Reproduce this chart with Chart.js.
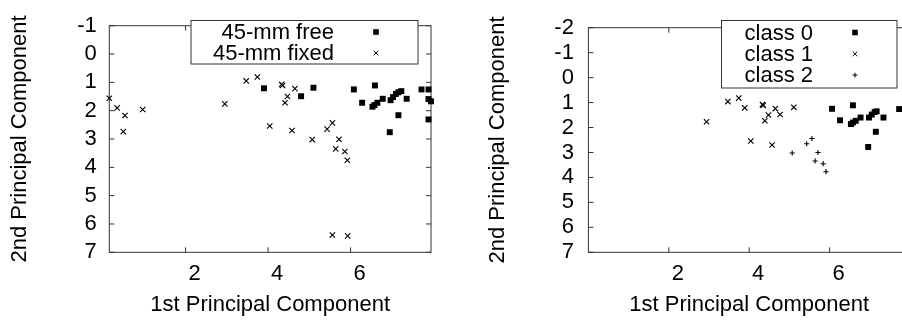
<!DOCTYPE html>
<html>
<head>
<meta charset="utf-8">
<script src="https://cdn.jsdelivr.net/npm/chart.js@4.4.1/dist/chart.umd.min.js"></script>
<style>
html, body { margin: 0; padding: 0; background: #fff; overflow: hidden; width: 902px; height: 322px; }
#left { position: absolute; left: 0; top: 0; }
#right { position: absolute; left: 450px; top: 0; }
</style>
</head>
<body>
<canvas id="left" width="451" height="322"></canvas>
<canvas id="right" width="480" height="322"></canvas>
<script>
// tick labels
const xTicks = [2, 4, 6];
const leftYTicks = [-1, 0, 1, 2, 3, 4, 5, 6, 7];
const rightYTicks = [-2, -1, 0, 1, 2, 3, 4, 5, 6, 7];

// left plot: [1st PC, 2nd PC]
const free45 = [
  [3.90, 1.21], [4.80, 1.49], [5.10, 1.19], [6.08, 1.25], [6.28, 1.72], [6.59, 1.11],
  [6.53, 1.86], [6.58, 1.80], [6.65, 1.72], [6.78, 1.58], [6.97, 1.63], [7.03, 1.52],
  [7.10, 1.41], [7.16, 1.35], [7.23, 1.31], [7.36, 1.58], [7.16, 2.16], [6.95, 2.76],
  [7.72, 1.25], [7.89, 1.25], [7.89, 1.59], [7.95, 1.67], [7.89, 2.31]
];
const fixed45 = [
  [0.15, 1.56], [0.34, 1.90], [0.53, 2.17], [0.49, 2.74], [0.96, 1.96], [2.95, 1.76],
  [3.47, 0.95], [3.74, 0.81], [4.33, 1.07], [4.35, 1.11], [4.65, 1.22], [4.47, 1.50],
  [4.41, 1.72], [4.04, 2.54], [4.58, 2.70], [5.07, 3.02], [5.43, 2.65], [5.56, 2.43],
  [5.72, 3.01], [5.64, 3.35], [5.86, 3.44], [5.92, 3.75], [5.56, 6.39], [5.93, 6.42]
];

// right plot
const class0 = [
  [6.06, 1.25], [6.26, 1.71], [6.58, 1.11], [6.53, 1.86], [6.58, 1.80], [6.65, 1.73],
  [6.77, 1.60], [6.98, 1.60], [7.05, 1.48], [7.12, 1.38], [7.17, 1.35], [7.34, 1.60],
  [7.15, 2.17], [6.96, 2.78], [7.73, 1.26], [7.89, 1.25], [7.89, 1.59], [7.95, 1.67], [7.89, 2.31]
];
const class1 = [
  [2.94, 1.77], [3.47, 0.96], [3.74, 0.82], [3.89, 1.21], [4.33, 1.08], [4.35, 1.11],
  [4.65, 1.24], [4.48, 1.50], [4.39, 1.73], [4.77, 1.48], [5.11, 1.19], [4.04, 2.54], [4.57, 2.70]
];
const class2 = [
  [5.07, 3.02], [5.43, 2.65], [5.56, 2.44], [5.71, 3.00], [5.64, 3.34], [5.84, 3.45], [5.91, 3.77]
];

Chart.defaults.font.family = '"Liberation Sans", Arial, sans-serif';
Chart.defaults.font.size = 22;
Chart.defaults.color = '#000';

const TICK = 5;

const framePlugin = {
  id: 'frame',
  beforeDatasetsDraw(chart) {
    const { ctx, chartArea: a, scales: { x, y } } = chart;
    ctx.save();
    ctx.strokeStyle = '#333';
    ctx.lineWidth = 1;
    ctx.strokeRect(a.left, a.top, a.right - a.left, a.bottom - a.top);
    ctx.beginPath();
    x.ticks.forEach(t => {
      const px = x.getPixelForValue(t.value);
      ctx.moveTo(px, a.bottom); ctx.lineTo(px, a.bottom - TICK);
      ctx.moveTo(px, a.top); ctx.lineTo(px, a.top + TICK);
    });
    y.ticks.forEach(t => {
      const py = y.getPixelForValue(t.value);
      ctx.moveTo(a.left, py); ctx.lineTo(a.left + TICK, py);
      ctx.moveTo(a.right, py); ctx.lineTo(a.right - TICK, py);
    });
    ctx.stroke();
    ctx.restore();
  }
};

function drawMark(ctx, style, x, y) {
  ctx.beginPath();
  if (style === 'rect') {
    ctx.fillRect(x - 2.8, y - 2.8, 5.6, 5.6);
    return;
  }
  const r = style === 'crossRot' ? 2.3 : 2.4;
  if (style === 'crossRot') {
    ctx.moveTo(x - r, y - r); ctx.lineTo(x + r, y + r);
    ctx.moveTo(x - r, y + r); ctx.lineTo(x + r, y - r);
  } else {
    ctx.moveTo(x - r, y); ctx.lineTo(x + r, y);
    ctx.moveTo(x, y - r); ctx.lineTo(x, y + r);
  }
  ctx.stroke();
}

const boxLegend = {
  id: 'boxLegend',
  afterDraw(chart, args, o) {
    const { ctx } = chart;
    ctx.save();
    ctx.fillStyle = '#fff';
    ctx.fillRect(o.left, o.top, o.right - o.left, o.bottom - o.top);
    ctx.strokeStyle = '#333';
    ctx.lineWidth = 1;
    ctx.strokeRect(o.left, o.top, o.right - o.left, o.bottom - o.top);
    ctx.font = '22px "Liberation Sans", Arial, sans-serif';
    ctx.textAlign = 'right';
    ctx.textBaseline = 'middle';
    chart.data.datasets.forEach((ds, i) => {
      const y = o.row0 + i * o.gap;
      ctx.fillStyle = '#000';
      ctx.fillText(ds.label, o.textRight, y + 1);
      ctx.strokeStyle = '#000';
      drawMark(ctx, ds.pointStyle, o.markX, y);
    });
    ctx.restore();
  }
};

function toPts(arr) { return arr.map(p => ({ x: p[0], y: p[1] })); }

function squares(label, arr) {
  return { label, data: toPts(arr), pointStyle: 'rect', pointRadius: 4.2, backgroundColor: '#000', borderWidth: 0, clip: false };
}
function crosses(label, arr) {
  return { label, data: toPts(arr), pointStyle: 'crossRot', pointRadius: 3.8, borderColor: '#000', borderWidth: 1.1, clip: false };
}
function pluses(label, arr) {
  return { label, data: toPts(arr), pointStyle: 'cross', pointRadius: 2.6, borderColor: '#000', borderWidth: 1.1, clip: false };
}

function makeScales(xMin, xMax, yMin, yMax, yTicks, yWidth, yTitlePad, yLabelPad, xHeight) {
  return {
    x: {
      type: 'linear', min: xMin, max: xMax,
      afterBuildTicks: s => { s.ticks = xTicks.map(v => ({ value: v })); },
      afterFit: s => { s.height = xHeight; },
      grid: { display: false, drawTicks: false },
      border: { display: false },
      ticks: { padding: 8.3, labelOffset: 9, autoSkip: false, maxRotation: 0 },
      title: { display: true, text: '1st Principal Component', padding: { top: 0, bottom: 3.8 } }
    },
    y: {
      type: 'linear', min: yMin, max: yMax, reverse: true,
      afterBuildTicks: s => { s.ticks = yTicks.map(v => ({ value: v })); },
      afterFit: s => { s.width = yWidth; },
      grid: { display: false, drawTicks: false },
      border: { display: false },
      ticks: { padding: yLabelPad, autoSkip: false },
      title: { display: true, text: '2nd Principal Component', padding: { top: yTitlePad, bottom: 0 } }
    }
  };
}

new Chart(document.getElementById('left'), {
  type: 'scatter',
  data: { datasets: [squares('45-mm free', free45), crosses('45-mm fixed', fixed45)] },
  plugins: [framePlugin, boxLegend],
  options: {
    responsive: false,
    animation: false,
    events: [],
    layout: { padding: { top: 15, right: 20, left: 0, bottom: 0 } },
    scales: makeScales(0.15, 7.95, -1, 7, leftYTicks, 109.3, 6.8, 12.5, 69.7),
    plugins: {
      legend: { display: false },
      tooltip: { enabled: false },
      boxLegend: { left: 191, top: 20.5, right: 418, bottom: 64, textRight: 334, markX: 376, row0: 32, gap: 21 }
    }
  }
});

new Chart(document.getElementById('right'), {
  type: 'scatter',
  data: { datasets: [squares('class 0', class0), crosses('class 1', class1), pluses('class 2', class2)] },
  plugins: [framePlugin, boxLegend],
  options: {
    responsive: false,
    animation: false,
    events: [],
    layout: { padding: { top: 15, right: 20, left: 0, bottom: 0 } },
    scales: makeScales(0, 8, -2, 7, rightYTicks, 138.4, 35.1, 14.5, 69.7),
    plugins: {
      legend: { display: false },
      tooltip: { enabled: false },
      boxLegend: { left: 271.5, top: 20.5, right: 447, bottom: 88, textRight: 363, markX: 405, row0: 32.5, gap: 21.3 }
    }
  }
});
</script>
</body>
</html>
